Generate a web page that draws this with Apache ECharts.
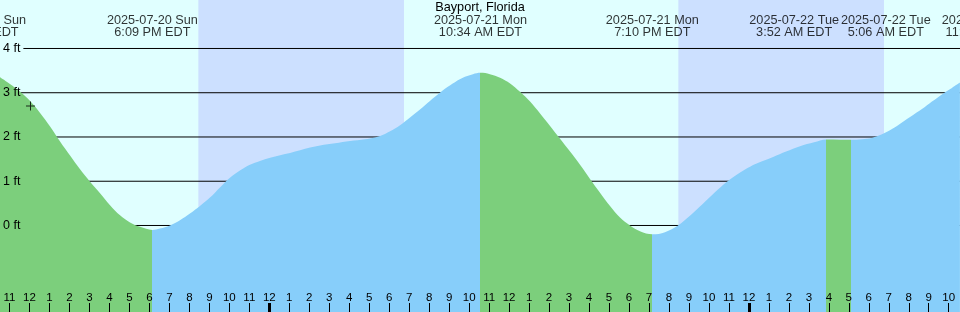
<!DOCTYPE html>
<html><head><meta charset="utf-8">
<script src="https://cdn.jsdelivr.net/npm/echarts@6/dist/echarts.min.js"></script>
<style>html,body{margin:0;padding:0;background:#e0ffff;overflow:hidden}#c{width:960px;height:312px}</style>
</head><body><div id="c"></div>
<script>
// ---- data (hours are counted from 2025-07-21 00:00 EDT) ----
const titleText = 'Bayport, Florida';
const tideHours = [
  -13.48, -12.98, -12.48, -11.98, -11.48, -10.97, -10.47, -9.97, -9.47, -8.97, -8.47, -7.97, -7.47, -6.97, -6.47, -5.85,
  -5.47, -4.97, -4.47, -3.97, -3.47, -2.97, -2.47, -1.97, -1.47, -0.97, -0.47, 0.04, 0.54, 1.04, 1.54, 2.04, 2.54, 3.29, 4.04, 4.79, 5.29, 5.79, 6.29, 6.79, 7.29, 7.79, 8.29, 8.79, 9.29, 9.79, 10.19, 10.567,
  11.04, 11.55, 12.05, 12.55, 13.05, 13.55, 14.05, 14.55, 15.05, 15.55, 16.05, 16.55, 17.05, 17.55, 18.05, 18.55, 19.167,
  19.80, 20.45, 21.05, 21.70, 22.30, 22.90, 23.56, 24.06, 24.66, 25.21, 25.86, 26.56, 27.26, 27.867,
  28.56, 29.10,
  29.66, 30.16, 30.66, 31.16, 31.66, 32.16, 32.66, 33.16, 33.71, 34.16, 34.56
];
const tideFeet = [
  3.35, 3.20, 3.03, 2.82, 2.55, 2.24, 1.90, 1.58, 1.27, 0.99, 0.73, 0.46, 0.23, 0.07, -0.03, -0.10,
  -0.07, 0.00, 0.12, 0.27, 0.44, 0.63, 0.86, 1.08, 1.24, 1.37, 1.46, 1.53, 1.59, 1.64, 1.70, 1.76, 1.81, 1.86, 1.91, 1.95, 1.99, 2.07, 2.19, 2.35, 2.53, 2.72, 2.91, 3.09, 3.24, 3.36, 3.42, 3.45,
  3.42, 3.34, 3.21, 3.02, 2.80, 2.53, 2.25, 1.96, 1.67, 1.37, 1.05, 0.74, 0.44, 0.18, 0.00, -0.13, -0.20,
  -0.15, 0.00, 0.22, 0.49, 0.75, 0.99, 1.20, 1.33, 1.45, 1.55, 1.67, 1.79, 1.88, 1.945,
  1.94, 1.935,
  1.95, 1.98, 2.06, 2.18, 2.33, 2.48, 2.63, 2.80, 2.98, 3.11, 3.23
];
const eventHours = [-14.45, -5.85, 10.567, 19.167, 27.867, 29.1, 35.9];
const eventKinds = ['H', 'L', 'H', 'L', 'H', 'L', 'H'];
const eventDates = ['2025-07-20 Sun', '2025-07-20 Sun', '2025-07-21 Mon', '2025-07-21 Mon', '2025-07-22 Tue', '2025-07-22 Tue', '2025-07-22 Tue'];
const eventTimes = ['9:33 AM EDT', '6:09 PM EDT', '10:34 AM EDT', '7:10 PM EDT', '3:52 AM EDT', '5:06 AM EDT', '11:54 AM EDT'];
const nightStarts = [-3.55, 20.47];
const nightEnds = [6.74, 30.76];
const hourTicks = [-13, -12, -11, -10, -9, -8, -7, -6, -5, -4, -3, -2, -1, 0, 1, 2, 3, 4, 5, 6, 7, 8, 9, 10, 11, 12, 13, 14, 15, 16, 17, 18, 19, 20, 21, 22, 23, 24, 25, 26, 27, 28, 29, 30, 31, 32, 33, 34];
const hourLabels = ['11', '12', '1', '2', '3', '4', '5', '6', '7', '8', '9', '10', '11', '12', '1', '2', '3', '4', '5', '6', '7', '8', '9', '10', '11', '12', '1', '2', '3', '4', '5', '6', '7', '8', '9', '10', '11', '12', '1', '2', '3', '4', '5', '6', '7', '8', '9', '10'];
const midnightTicks = [0, 24];
const levelTicks = [0, 1, 2, 3, 4];
const levelLabels = ['0 ft', '1 ft', '2 ft', '3 ft', '4 ft'];
const nowHour = -11.95;
const nowFeet = 2.70;

// ---- layout / style ----
const X_MIN = -13.476, X_MAX = 34.564;
const Y_MIN = -1.955, Y_MAX = 5.096;
const labelShift = [0, 0, 0, 0, -32, 35, 0];
const DAY = '#e0ffff', NIGHT = '#cce0ff', FALL = '#7ccf7c', RISE = '#87cefa';
const FONT = '"Liberation Sans", Arial, sans-serif';

const pieces = [];
for (let i = 0; i < eventHours.length - 1; i++) {
  pieces.push({ gte: eventHours[i], lt: eventHours[i + 1], color: eventKinds[i] === 'H' ? FALL : RISE });
}
pieces.push({ lt: eventHours[0], color: eventKinds[0] === 'H' ? RISE : FALL });
pieces.push({ gte: eventHours[eventHours.length - 1], color: eventKinds[eventKinds.length - 1] === 'H' ? FALL : RISE });

const gridSeries = levelTicks.map((lvl, i) => ({
  type: 'line', z: 2, silent: true, animation: false, symbol: 'none',
  data: [[X_MIN, lvl], [X_MAX, lvl]],
  lineStyle: { color: '#000', width: 1 },
  markArea: i === 0 ? {
    silent: true, z: 1,
    itemStyle: { color: NIGHT, opacity: 1 },
    data: nightStarts.map((s, k) => [{ xAxis: s }, { xAxis: nightEnds[k] }])
  } : undefined
}));

const chart = echarts.init(document.getElementById('c'), null, { renderer: 'canvas' });
chart.setOption({
  backgroundColor: DAY,
  animation: false,
  title: {
    text: titleText, left: 'center', top: 1, padding: 0,
    textStyle: { fontFamily: FONT, fontSize: 12.7, fontWeight: 'normal', color: '#000', lineHeight: 13 }
  },
  grid: { left: 0, right: 0, top: 0, bottom: 0, containLabel: false, outerBoundsMode: 'none' },
  xAxis: [{
    type: 'value', min: X_MIN, max: X_MAX, position: 'bottom', z: 10,
    axisLine: { show: false, onZero: false }, splitLine: { show: false },
    axisTick: { show: true, inside: true, length: 9, customValues: hourTicks, lineStyle: { color: '#000', width: 1 } },
    axisLabel: {
      show: true, inside: true, margin: 8, customValues: hourTicks,
      fontFamily: FONT, fontSize: 11.5, lineHeight: 12, color: '#000',
      formatter: v => hourLabels[hourTicks.indexOf(Math.round(v))]
    }
  }, {
    type: 'value', min: X_MIN, max: X_MAX, position: 'bottom', z: 10,
    axisLine: { show: false, onZero: false }, splitLine: { show: false },
    axisTick: { show: true, inside: true, length: 9, customValues: midnightTicks, lineStyle: { color: '#000', width: 3 } },
    axisLabel: { show: false }
  }],
  yAxis: {
    type: 'value', min: Y_MIN, max: Y_MAX, z: 10,
    axisLine: { show: false, onZero: false }, axisTick: { show: false }, splitLine: { show: false },
    axisLabel: {
      show: true, inside: true, margin: 0, customValues: levelTicks,
      formatter: v => {
        const t = levelLabels[levelTicks.indexOf(Math.round(v))];
        return Math.round(v) === levelTicks[levelTicks.length - 1] ? '{bg|' + t + '}' : '{n|' + t + '}';
      },
      rich: {
        bg: { fontFamily: FONT, fontSize: 12.5, color: '#000', backgroundColor: DAY, padding: [2, 3, 2, 3] },
        n: { fontFamily: FONT, fontSize: 12.5, color: '#000', padding: [2, 3, 2, 3] }
      }
    }
  },
  visualMap: {
    type: 'piecewise', show: false, dimension: 0, seriesIndex: levelTicks.length, pieces: pieces
  },
  series: gridSeries.concat([{
    type: 'line', z: 3, silent: true, animation: false, symbol: 'none', showSymbol: false,
    smooth: 0.35,
    data: tideHours.map((h, i) => [h, tideFeet[i]]),
    lineStyle: { width: 0 },
    areaStyle: { opacity: 1, origin: 'start' }
  }, {
    type: 'scatter', z: 4, silent: true, animation: false, clip: false,
    symbolSize: 1, itemStyle: { color: 'rgba(0,0,0,0)' },
    data: eventHours.map((h, i) => ({
      value: [h, Y_MAX],
      label: { offset: [labelShift[i], 0] }
    })),
    label: {
      show: true, position: 'bottom', distance: 13.5,
      fontFamily: FONT, fontSize: 12.7, lineHeight: 12.6, color: '#000', align: 'center',
      formatter: p => eventDates[p.dataIndex] + '\n' + eventTimes[p.dataIndex]
    }
  }, {
    type: 'scatter', z: 5, silent: true, animation: false,
    symbol: 'path://M0,4H9V5H0Z M4,0H5V9H4Z', symbolSize: 9,
    itemStyle: { color: '#000' },
    data: [[nowHour, nowFeet]]
  }])
});
</script>
</body></html>
